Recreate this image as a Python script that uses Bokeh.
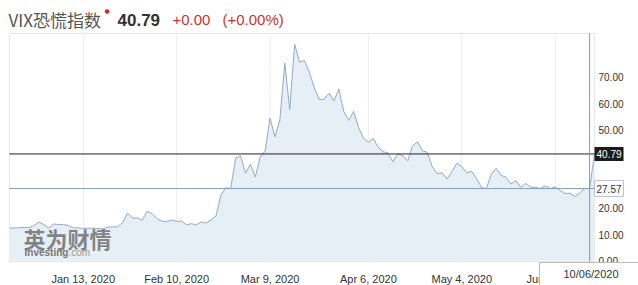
from bokeh.plotting import figure
from bokeh.models import Range1d, Label, ColumnDataSource
from bokeh.core.properties import value
from bokeh.embed import file_html
from bokeh.resources import INLINE

# ---- data (trading days, VIX close) ----
dates = [
    "2019-12-19", "2019-12-20", "2019-12-23", "2019-12-24", "2019-12-26", "2019-12-27",
    "2019-12-30", "2019-12-31", "2020-01-02", "2020-01-03", "2020-01-06", "2020-01-07",
    "2020-01-08", "2020-01-09", "2020-01-10", "2020-01-13", "2020-01-14", "2020-01-15",
    "2020-01-16", "2020-01-17", "2020-01-21", "2020-01-22", "2020-01-23", "2020-01-24",
    "2020-01-27", "2020-01-28", "2020-01-29", "2020-01-30", "2020-01-31", "2020-02-03",
    "2020-02-04", "2020-02-05", "2020-02-06", "2020-02-07", "2020-02-10", "2020-02-11",
    "2020-02-12", "2020-02-13", "2020-02-14", "2020-02-18", "2020-02-19", "2020-02-20",
    "2020-02-21", "2020-02-24", "2020-02-25", "2020-02-26", "2020-02-27", "2020-02-28",
    "2020-03-02", "2020-03-03", "2020-03-04", "2020-03-05", "2020-03-06", "2020-03-09",
    "2020-03-10", "2020-03-11", "2020-03-12", "2020-03-13", "2020-03-16", "2020-03-17",
    "2020-03-18", "2020-03-19", "2020-03-20", "2020-03-23", "2020-03-24", "2020-03-25",
    "2020-03-26", "2020-03-27", "2020-03-30", "2020-03-31", "2020-04-01", "2020-04-02",
    "2020-04-03", "2020-04-06", "2020-04-07", "2020-04-08", "2020-04-09", "2020-04-13",
    "2020-04-14", "2020-04-15", "2020-04-16", "2020-04-17", "2020-04-20", "2020-04-21",
    "2020-04-22", "2020-04-23", "2020-04-24", "2020-04-27", "2020-04-28", "2020-04-29",
    "2020-04-30", "2020-05-01", "2020-05-04", "2020-05-05", "2020-05-06", "2020-05-07",
    "2020-05-08", "2020-05-11", "2020-05-12", "2020-05-13", "2020-05-14", "2020-05-15",
    "2020-05-18", "2020-05-19", "2020-05-20", "2020-05-21", "2020-05-22", "2020-05-26",
    "2020-05-27", "2020-05-28", "2020-05-29", "2020-06-01", "2020-06-02", "2020-06-03",
    "2020-06-04", "2020-06-05", "2020-06-08", "2020-06-09", "2020-06-10", "2020-06-11",
]
values = [
    12.50, 12.51, 12.61, 12.67, 12.65, 13.43,
    14.82, 13.78, 12.47, 14.02, 13.85, 13.79,
    13.45, 12.54, 12.56, 12.32, 12.39, 12.42,
    12.32, 12.10, 12.85, 12.91, 12.98, 14.56,
    18.23, 16.28, 16.39, 15.49, 18.84, 17.97,
    16.05, 15.15, 14.96, 15.47, 15.04, 15.18,
    13.74, 14.15, 13.68, 14.83, 14.38, 15.56,
    17.08, 25.03, 27.85, 27.56, 39.16, 40.11,
    33.42, 36.82, 31.99, 39.62, 41.94, 54.46,
    47.30, 53.90, 75.47, 57.83, 82.69, 75.91,
    76.45, 72.00, 66.04, 61.59, 61.67, 63.95,
    61.00, 65.54, 57.08, 53.54, 57.06, 50.91,
    46.80, 45.24, 46.70, 43.35, 41.67, 41.17,
    37.76, 40.84, 40.11, 38.15, 43.83, 45.41,
    41.98, 41.38, 35.93, 33.29, 33.57, 31.23,
    34.15, 37.19, 35.97, 33.61, 34.12, 31.44,
    27.98, 27.57, 33.04, 35.28, 32.61, 31.89,
    29.30, 30.53, 27.99, 29.53, 28.16, 28.01,
    27.62, 28.59, 27.51, 28.23, 26.84, 25.66,
    25.81, 24.52, 25.81, 27.57, 27.57, 40.79,
]
tick_dates = ["2020-01-13", "2020-02-10", "2020-03-09", "2020-04-06", "2020-05-04", "2020-06-01"]
tick_labels = ["Jan 13, 2020", "Feb 10, 2020", "Mar 9, 2020", "Apr 6, 2020", "May 4, 2020", "Jun 1, 2020"]
y_ticks = [0, 10, 20, 30, 40, 50, 60, 70]
title_name = "VIX恐慌指数"
last_value = 40.79
change_text = "+0.00"
change_pct_text = "(+0.00%)"
cursor_date = "2020-06-10"
cursor_value = 27.57
cursor_date_label = "10/06/2020"

# ---- layout: the plotting frame fills the canvas; the chart area is L..R x T..B ----
W, H = 638, 285
L, R, T, B = 9, 594, 33, 261
Y_MIN, Y_MAX = -0.3, 86.8

n = len(values)
idx = list(range(n))
X_LAST = n - 1
bx = (R - L) / X_LAST            # px per trading day
ky = (B - T) / (Y_MAX - Y_MIN)   # px per VIX point

x_range = Range1d(-L / bx, (W - L) / bx)
y_range = Range1d(Y_MIN - (H - B) / ky, Y_MAX + T / ky)

p = figure(width=W, height=H, output_backend="svg", toolbar_location=None,
           x_range=x_range, y_range=y_range, title=None,
           x_axis_location=None, y_axis_location=None,
           min_border=0, min_border_left=0, min_border_right=0, min_border_top=0, min_border_bottom=0)
p.background_fill_color = "white"
p.border_fill_color = "white"
p.outline_line_color = None
p.grid.visible = False

src = ColumnDataSource(dict(x=idx, y=values))
tick_idx = [dates.index(d) for d in tick_dates]

# chart-area frame and vertical grid
p.quad(left=0, right=X_LAST, bottom=Y_MIN, top=Y_MAX, fill_color=None, line_color="#e8e8e8", line_width=1)
p.segment(x0=tick_idx, x1=tick_idx, y0=[Y_MIN] * len(tick_idx), y1=[Y_MAX] * len(tick_idx),
          line_color="#eeeeee", line_width=1)

# area + line
p.varea(x="x", y1=0, y2="y", source=src, fill_color="#e6eef6")
p.line(x="x", y="y", source=src, line_color="#94aac2", line_width=1)

# reference lines
p.segment(x0=[0], x1=[X_LAST], y0=[last_value], y1=[last_value], line_color="#222222", line_width=1)
p.segment(x0=[0], x1=[X_LAST], y0=[cursor_value], y1=[cursor_value], line_color="#86a2c2", line_width=1)
ci = dates.index(cursor_date)
p.segment(x0=[ci], x1=[ci], y0=[Y_MIN], y1=[Y_MAX], line_color="#7f9dc2", line_width=1)

# x tick labels (below the chart area)
p.text(x=tick_idx, y=[Y_MIN - 17 / ky] * len(tick_idx), text=tick_labels,
       text_font=value("Liberation Sans"), text_font_size="11px", text_color="#333333",
       text_align="center", text_baseline="middle")
# y tick labels (right of the chart area); labels hidden behind a value tag are skipped
shown = [v for v in y_ticks if min(abs(v - last_value), abs(v - cursor_value)) * ky > 9]
p.text(x=[X_LAST + 4 / bx] * len(shown), y=shown, text=[f"{v:.2f}" for v in shown],
       text_font=value("Liberation Sans"), text_font_size="10px", text_color="#333333",
       text_align="left", text_baseline="middle")


def lab(text, X, Y, **kw):
    kw.setdefault("text_baseline", "middle")
    kw.setdefault("text_align", "left")
    kw.setdefault("text_font", "Liberation Sans")
    return Label(x=X, y=H - Y, x_units="screen", y_units="screen", text=text, **kw)


def yscr(v):
    return B - (v - Y_MIN) * ky


# value tags on the right
p.add_layout(lab(f"{last_value:.2f}", 594, yscr(last_value), text_font_size="10px", text_color="white",
                 background_fill_color="#1c1c1c", padding=dict(left=2, right=2, top=3, bottom=3)))
p.add_layout(lab(f"{cursor_value:.2f}", 594, yscr(cursor_value), text_font_size="10px", text_color="#333333",
                 background_fill_color="white", border_line_color="#b9c4d0",
                 padding=dict(left=2, right=2, top=4, bottom=4)))
# date tooltip box (anchored at its top-left corner)
p.add_layout(lab(cursor_date_label, 539, 262, text_align="left", text_baseline="top",
                 text_font_size="11px", text_color="#333333",
                 background_fill_color="white", border_line_color="#bbbbbb",
                 padding=dict(left=24, right=40, top=5, bottom=10)))

# title row
p.add_layout(lab(title_name, 8, 19, text_font="Noto Sans CJK SC", text_font_size="17px", text_color="#555555"))
p.add_layout(lab("●", 104, 10, text_font="DejaVu Sans", text_font_size="6px", text_color="#d0312d"))
p.add_layout(lab(f"{last_value:.2f}", 117, 19, text_font_size="17px", text_font_style="bold", text_color="#333333"))
p.add_layout(lab(change_text, 172, 19, text_font_size="15px", text_color="#d0312d"))
p.add_layout(lab(change_pct_text, 222, 19, text_font_size="15px", text_color="#d0312d"))

# watermark
p.add_layout(lab("英为财情", 23, 237, text_font="Noto Sans CJK SC", text_font_size="22px",
                 text_font_style="bold", text_color="#707070", text_alpha=0.85))
p.add_layout(lab("Investing", 24, 252, text_font_size="10px", text_font_style="bold", text_color="#777777"))
p.add_layout(lab(".com", 68, 252, text_font_size="10px", text_color="#999999"))

open("out.html", "w").write(file_html(p, INLINE))
